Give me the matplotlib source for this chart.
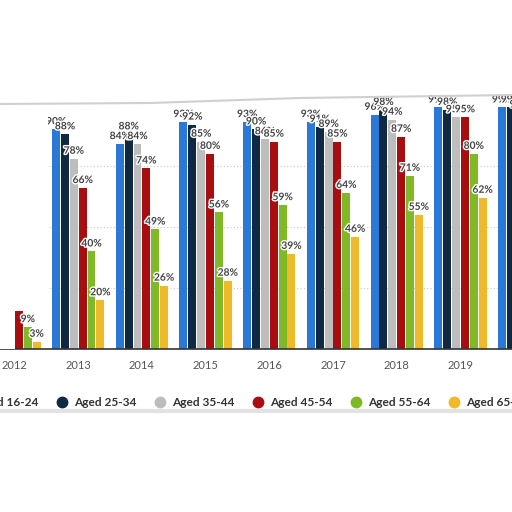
import matplotlib
matplotlib.use("Agg")
import matplotlib.pyplot as plt
import matplotlib.patheffects as pe
from matplotlib.lines import Line2D
from matplotlib.patches import Polygon

# Datos del grafico (porcentaje por grupo de edad y año)
anios = [2012, 2013, 2014, 2015, 2016, 2017, 2018, 2019, 2020]
grupos = ["Aged 16-24", "Aged 25-34", "Aged 35-44", "Aged 45-54", "Aged 55-64", "Aged 65+"]
aged_16_24 = [66, 90, 84, 93, 93, 93, 96, 99, 99]
aged_25_34 = [55, 88, 88, 92, 90, 91, 98, 98, 99]
aged_35_44 = [42, 78, 84, 85, 86, 89, 94, 95, 97]
aged_45_54 = [28, 66, 74, 80, 85, 85, 87, 95, 95]
aged_55_64 = [9, 40, 49, 56, 59, 64, 71, 80, 86]
aged_65 = [3, 20, 26, 28, 39, 46, 55, 62, 68]
series = [aged_16_24, aged_25_34, aged_35_44, aged_45_54, aged_55_64, aged_65]
colores = ["#2a78d8", "#0f2942", "#bdbdbd", "#a80e10", "#80b927", "#f0b92a"]

W, H = 512, 512
fig = plt.figure(figsize=(5.12, 5.12), dpi=100)
plt.rcParams['font.family'] = ['Lato', 'DejaVu Sans']

def px(x, y):
    # pixeles de la imagen -> fraccion de la figura
    return x / W, 1 - y / H

# ejes: base en y=349 px, 100% en y=105 px
ax = fig.add_axes([0, 1 - 349 / H, 1, (349 - 105) / H])
ax.set_xlim(2011.772, 2019.81)
ax.set_ylim(0, 100)

ancho = 0.125
paso = 0.139
for i, (valores, color) in enumerate(zip(series, colores)):
    xs = [a + (i - 2.5) * paso for a in anios]
    ax.bar(xs, valores, width=ancho, color=color, zorder=2)
for i, valores in enumerate(series):
    xs = [a + (i - 2.5) * paso for a in anios]
    for x, v in zip(xs, valores):
        ax.text(x, v + 1.2, f"{v}%", ha="center", va="bottom", fontsize=7.4,
                fontweight="bold", color="#444444", zorder=3, clip_on=False,
                path_effects=[pe.withStroke(linewidth=2, foreground="white")])

for g in [25, 50, 75]:
    ax.axhline(g, color="#c8c8c8", lw=0.8, ls=(0, (1, 2)), zorder=1)

for s in ["top", "right", "left"]:
    ax.spines[s].set_visible(False)
ax.spines["bottom"].set_color("#333333")
ax.spines["bottom"].set_linewidth(1.2)
ax.set_yticks([])
# la etiqueta de 2020 queda fuera de la imagen
ax.set_xticks(anios[:-1])
ax.set_xticklabels([str(a) for a in anios[:-1]], fontsize=8, color="#555555")
ax.tick_params(axis="x", length=0, pad=8)

# mancha blanca sobre 2012 (como en la imagen original)
mancha = Polygon([px(0, 100), px(48, 100), px(48, 311), px(15, 311), px(15, 349), px(0, 349)],
                 closed=True, transform=fig.transFigure, facecolor="white",
                 edgecolor="none", alpha=1, zorder=5)
fig.add_artist(mancha)

# borde superior y sombra inferior del recuadro
fig.add_artist(Line2D([0, 150 / W, 300 / W, 1], [1 - 104 / H, 1 - 103 / H, 1 - 98 / H, 1 - 95 / H],
                      color="#d0d0d0", lw=1.5, zorder=6))
fig.add_artist(Line2D([0, 1], [1 - 411 / H, 1 - 411 / H], color="#e2e2e2", lw=3, zorder=6))

# leyenda manual
for i, (nombre, color) in enumerate(zip(grupos, colores)):
    cx = -36 + i * 98
    x, y = px(cx, 402)
    fig.add_artist(Line2D([x], [y], marker="o", markersize=7.5, color=color, lw=0,
                          transform=fig.transFigure))
    fig.text(x + 12 / W, y, nombre, fontsize=8.6, fontweight="bold", color="#333333",
             ha="left", va="center")

fig.savefig("out.png", dpi=100, facecolor="white")
